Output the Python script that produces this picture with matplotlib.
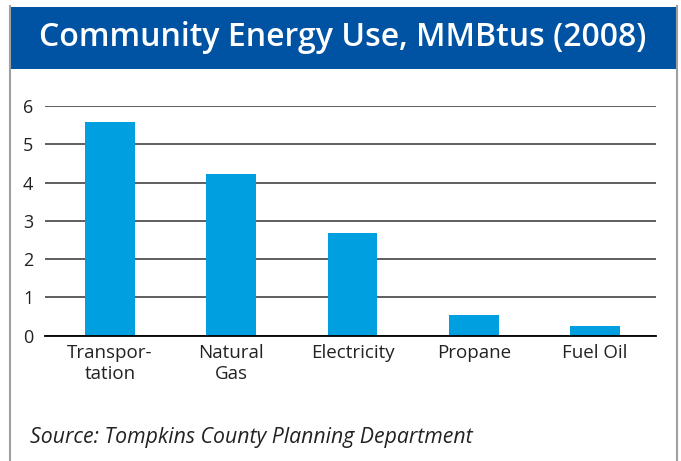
import matplotlib
matplotlib.use("Agg")
import matplotlib.pyplot as plt
from matplotlib.patches import Rectangle
from matplotlib.lines import Line2D

categories = ["Transpor-\ntation", "Natural\nGas", "Electricity", "Propane", "Fuel Oil"]
values = [5.59, 4.22, 2.68, 0.55, 0.25]
yticks = [0, 1, 2, 3, 4, 5, 6]

plt.rcParams['font.family'] = ['Open Sans', 'DejaVu Sans']

W, H = 681, 461
fig = plt.figure(figsize=(W/100, H/100), dpi=100)
fig.patch.set_facecolor('white')

# Frame borders
fig.add_artist(Line2D([10/W, 10/W], [0, 1-6/H], color='#a0a0a0', lw=1.5))
fig.add_artist(Line2D([677/W, 677/W], [0, 1-6/H], color='#a0a0a0', lw=1.5))
# Header
fig.add_artist(Rectangle((9/W, 1-69/H), (678-9)/W, (69-7)/H, facecolor='#0052A3', edgecolor='none'))
fig.text(343/W, 1-38/H, "Community Energy Use, MMBtus (2008)", color='white',
         fontsize=23.05, fontweight='semibold', ha='center', va='center')

ax = fig.add_axes([45/W, 1-335.7/H, (656-45)/W, (335.7-106)/H])
x = list(range(len(categories)))
ax.bar(x, values, width=0.412, color='#009FE0', zorder=3)
ax.set_xlim(-0.536, len(categories)-0.497)
ax.set_ylim(0, 6)
ax.set_yticks(yticks)
ax.set_yticklabels([str(t) for t in yticks], fontsize=13, color='#222222')
ax.set_xticks(x)
ax.set_xticklabels(categories, fontsize=13.5, color='#222222', linespacing=1.2)
ax.tick_params(axis='y', length=0, pad=8.5)
ax.tick_params(axis='x', length=0, pad=6)
for s in ['top', 'right', 'left']:
    ax.spines[s].set_visible(False)
ax.spines['bottom'].set_color('black')
ax.spines['bottom'].set_linewidth(1.3)
ax.spines['bottom'].set_zorder(4)
ax.yaxis.grid(True, color='#333333', lw=1.1, zorder=0)
ax.set_axisbelow(True)

fig.text(30/W, 1-437/H, "Source: Tompkins County Planning Department", fontsize=15.3,
         style='italic', color='#222222', ha='left', va='center')

fig.savefig("out.png", dpi=100)
